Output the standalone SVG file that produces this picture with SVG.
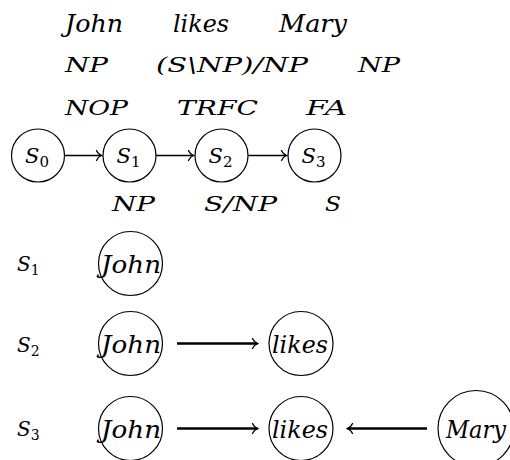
<svg xmlns="http://www.w3.org/2000/svg" width="510" height="460" viewBox="0 0 510 460" font-family="'DejaVu Serif',serif">
<defs>
<style>
text{font-family:'DejaVu Serif',serif;font-style:italic;fill:#000}
.sub{font-style:normal}
.r1{font-size:25px}
.lab{font-size:21px}
.cw{font-size:25px}
.node circle{fill:none;stroke:#000;stroke-width:1.2}
.edge{stroke:#000;fill:none}
.thin{stroke-width:1.6}
.thick{stroke-width:2.6}
</style>
<marker id="to" viewBox="-6 -6 8 12" markerWidth="8" markerHeight="12" refX="0.5" refY="0" orient="auto" markerUnits="userSpaceOnUse">
<path d="M-4.5,-5 C-3,-1.8 -0.8,-0.4 0.6,0 C-0.8,0.4 -3,1.8 -4.5,5" fill="none" stroke="#000" stroke-width="1.3" stroke-linecap="round"/>
</marker>
</defs>
<rect width="510" height="460" fill="#fff"/>

<g id="labels-top">
<text class="r1" x="65" y="32" textLength="58" lengthAdjust="spacingAndGlyphs">John</text>
<text class="r1" x="173" y="32" textLength="56" lengthAdjust="spacingAndGlyphs">likes</text>
<text class="r1" x="279" y="32" textLength="68" lengthAdjust="spacingAndGlyphs">Mary</text>
<text class="lab" x="65" y="72" textLength="43" lengthAdjust="spacingAndGlyphs">NP</text>
<text class="lab" x="156" y="72" textLength="152" lengthAdjust="spacingAndGlyphs">(S\NP)/NP</text>
<text class="lab" x="358" y="72" textLength="42" lengthAdjust="spacingAndGlyphs">NP</text>
<text class="lab" x="65" y="115" textLength="63" lengthAdjust="spacingAndGlyphs">NOP</text>
<text class="lab" x="177" y="115" textLength="81" lengthAdjust="spacingAndGlyphs">TRFC</text>
<text class="lab" x="306" y="115" textLength="41" lengthAdjust="spacingAndGlyphs">FA</text>
<text class="lab" x="112" y="211" textLength="43" lengthAdjust="spacingAndGlyphs">NP</text>
<text class="lab" x="204" y="211" textLength="73" lengthAdjust="spacingAndGlyphs">S/NP</text>
<text class="lab" x="325" y="211" textLength="16" lengthAdjust="spacingAndGlyphs">S</text>
</g>

<g id="S0" class="node"><circle cx="38" cy="155.5" r="26.5"/><text class="lab" x="37" y="163" text-anchor="middle">S<tspan class="sub" font-size="15" dy="4">0</tspan></text></g>
<g id="S1" class="node"><circle cx="129.5" cy="155.5" r="26.5"/><text class="lab" x="128.5" y="163" text-anchor="middle">S<tspan class="sub" font-size="15" dy="4">1</tspan></text></g>
<g id="S2" class="node"><circle cx="221.5" cy="155.5" r="26.5"/><text class="lab" x="220.5" y="163" text-anchor="middle">S<tspan class="sub" font-size="15" dy="4">2</tspan></text></g>
<g id="S3" class="node"><circle cx="314.5" cy="155.5" r="26.5"/><text class="lab" x="313.5" y="163" text-anchor="middle">S<tspan class="sub" font-size="15" dy="4">3</tspan></text></g>

<g id="rowlabels">
<text x="17" y="271" font-size="20">S<tspan class="sub" font-size="14" dy="4">1</tspan></text>
<text x="17" y="352" font-size="20">S<tspan class="sub" font-size="14" dy="4">2</tspan></text>
<text x="17" y="436" font-size="20">S<tspan class="sub" font-size="14" dy="4">3</tspan></text>
</g>

<g id="r1-john" class="node"><circle cx="130.5" cy="263.5" r="32"/><text class="cw" x="101" y="273" textLength="60" lengthAdjust="spacingAndGlyphs">John</text></g>
<g id="r2-john" class="node"><circle cx="130.5" cy="343.5" r="32"/><text class="cw" x="101" y="353" textLength="60" lengthAdjust="spacingAndGlyphs">John</text></g>
<g id="r2-likes" class="node"><circle cx="301" cy="343.5" r="32"/><text class="cw" x="272" y="353" textLength="56" lengthAdjust="spacingAndGlyphs">likes</text></g>
<g id="r3-john" class="node"><circle cx="130.5" cy="428.5" r="32"/><text class="cw" x="101" y="438" textLength="60" lengthAdjust="spacingAndGlyphs">John</text></g>
<g id="r3-likes" class="node"><circle cx="301" cy="428.5" r="32"/><text class="cw" x="272" y="438" textLength="56" lengthAdjust="spacingAndGlyphs">likes</text></g>
<g id="r3-mary" class="node"><circle cx="476" cy="428.5" r="38"/><text class="cw" x="446" y="438" textLength="60" lengthAdjust="spacingAndGlyphs">Mary</text></g>

<g id="connectors">
<line class="edge thin" x1="64.5" y1="155.5" x2="101.5" y2="155.5" marker-end="url(#to)"/>
<line class="edge thin" x1="156" y1="155.5" x2="193.5" y2="155.5" marker-end="url(#to)"/>
<line class="edge thin" x1="248" y1="155.5" x2="286.5" y2="155.5" marker-end="url(#to)"/>
<line class="edge thick" x1="177" y1="343.5" x2="257.5" y2="343.5" marker-end="url(#to)"/>
<line class="edge thick" x1="177" y1="428.5" x2="257.5" y2="428.5" marker-end="url(#to)"/>
<line class="edge thick" x1="427" y1="428.5" x2="347.5" y2="428.5" marker-end="url(#to)"/>
</g>
</svg>
